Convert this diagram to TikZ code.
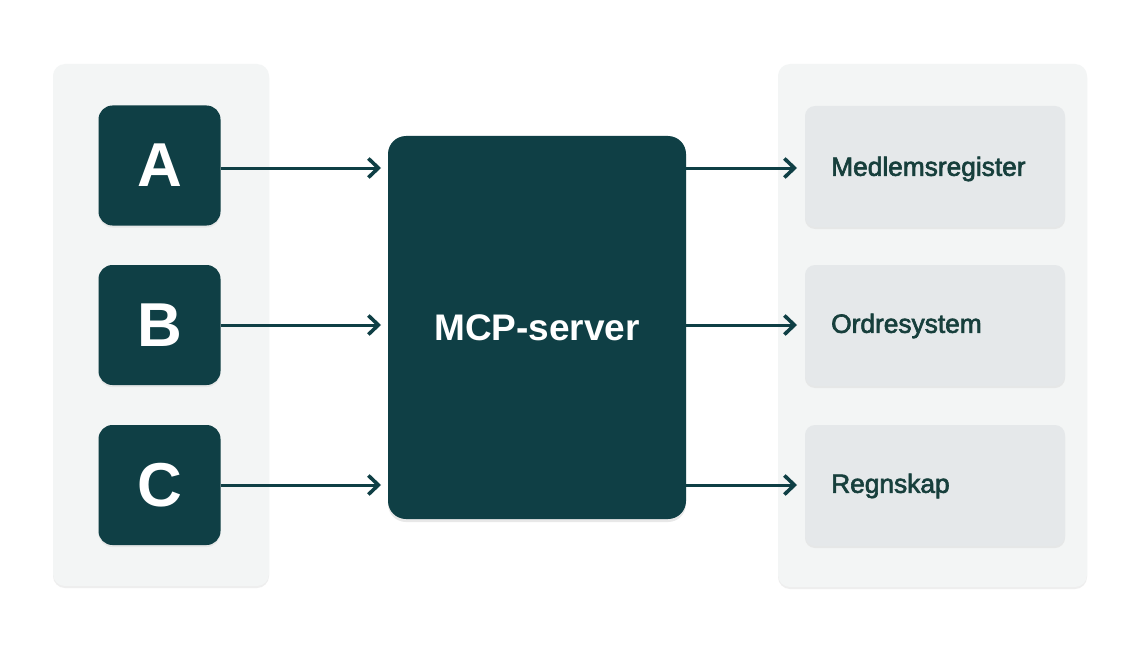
\documentclass[tikz,border=0pt]{standalone}
\usepackage{fontspec}
\setmainfont{Liberation Sans}
\newfontfamily\semfont[FakeBold=2.4]{Liberation Sans}
\usetikzlibrary{arrows.meta,shadows}
\definecolor{teal}{HTML}{0F3F45}
\definecolor{panel}{HTML}{F3F5F5}
\definecolor{target}{HTML}{E5E8EA}
\definecolor{labeltxt}{HTML}{173F3C}
\tikzset{
  panelbox/.style={draw=none, fill=panel, rounded corners=12pt,
    drop shadow={shadow xshift=0pt, shadow yshift=-2pt, opacity=0.25, fill=black!25}},
  client/.style={draw=none, fill=teal, rounded corners=14pt, minimum width=122pt, minimum height=120pt,
    text=white, font=\bfseries\fontsize{62}{62}\selectfont, inner sep=0pt,
    drop shadow={shadow xshift=0pt, shadow yshift=-2pt, opacity=0.15, fill=black!40}},
  server/.style={draw=none, fill=teal, rounded corners=18pt, minimum width=298pt, minimum height=383pt,
    text=white, font=\bfseries\fontsize{37}{37}\selectfont, inner sep=0pt,
    drop shadow={shadow xshift=0pt, shadow yshift=-3pt, opacity=0.18, fill=black!50}},
  targetbox/.style={draw=none, fill=target, rounded corners=10pt, minimum width=260pt, minimum height=121pt,
    inner sep=0pt,
    drop shadow={shadow xshift=0pt, shadow yshift=-2pt, opacity=0.2, fill=black!30}},
  tlabel/.style={text=labeltxt, font=\semfont\fontsize{26.3}{27}\selectfont, anchor=west, inner sep=0pt},
  flow/.style={draw=teal, line width=3pt, -{Straight Barb[length=10pt,width=19pt,line width=3.6pt]}}
}
\begin{document}
\begin{tikzpicture}[x=1pt,y=-1pt]
\useasboundingbox (0,0) rectangle (1140,650);
\fill[white] (0,0) rectangle (1140,650);
% panels
\path[panelbox] (53,64) rectangle (269,586);
\path[panelbox] (778,64) rectangle (1087,587);
% clients
\node[client] (a) at (159.5,165.5) {A};
\node[client] (b) at (159.5,325) {B};
\node[client] (c) at (159.5,485) {C};
% server
\node[server] (mcp) at (537,327.5) {MCP-server};
% targets
\node[targetbox] (t1) at (935,166.5) {};
\node[targetbox] (t2) at (935,325.5) {};
\node[targetbox] (t3) at (935,485.5) {};
\node[tlabel] (l1) at (831,169) {Medlemsregister};
\node[tlabel] (l2) at (831,326) {Ordresystem};
\node[tlabel] (l3) at (831,486) {Regnskap};
% arrows
\coordinate (sa) at (381,168);
\coordinate (sb) at (381,325);
\coordinate (sc) at (381,485);
\draw[flow] (a.east |- sa) -- (sa);
\draw[flow] (b.east |- sb) -- (sb);
\draw[flow] (c.east |- sc) -- (sc);
\coordinate (ea) at (797,168);
\coordinate (eb) at (797,325);
\coordinate (ec) at (797,485);
\draw[flow] (mcp.east |- ea) -- (ea);
\draw[flow] (mcp.east |- eb) -- (eb);
\draw[flow] (mcp.east |- ec) -- (ec);
\end{tikzpicture}
\end{document}
